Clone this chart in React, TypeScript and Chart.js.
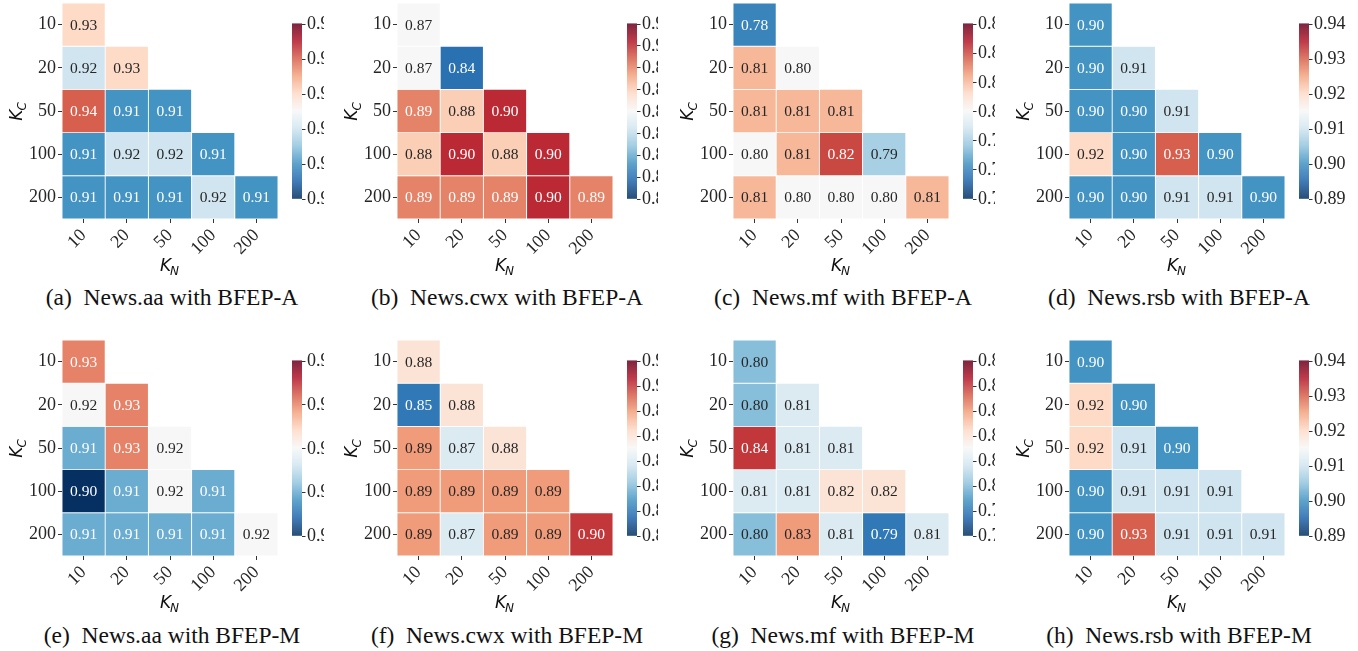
import React, { useEffect, useRef } from "react";
import { Chart, registerables } from "chart.js";
Chart.register(...registerables);

// ---------- data ----------
const KC_LABELS = ["10", "20", "50", "100", "200"]; // rows (K_C)
const KN_LABELS = ["10", "20", "50", "100", "200"]; // columns (K_N)

// lower-triangular matrices, row = K_C, col = K_N
const aaA = [[0.93], [0.92, 0.93], [0.94, 0.91, 0.91], [0.91, 0.92, 0.92, 0.91], [0.91, 0.91, 0.91, 0.92, 0.91]];
const cwxA = [[0.87], [0.87, 0.84], [0.89, 0.88, 0.9], [0.88, 0.9, 0.88, 0.9], [0.89, 0.89, 0.89, 0.9, 0.89]];
const mfA = [[0.78], [0.81, 0.8], [0.81, 0.81, 0.81], [0.8, 0.81, 0.82, 0.79], [0.81, 0.8, 0.8, 0.8, 0.81]];
const rsbA = [[0.9], [0.9, 0.91], [0.9, 0.9, 0.91], [0.92, 0.9, 0.93, 0.9], [0.9, 0.9, 0.91, 0.91, 0.9]];
const aaM = [[0.93], [0.92, 0.93], [0.91, 0.93, 0.92], [0.9, 0.91, 0.92, 0.91], [0.91, 0.91, 0.91, 0.91, 0.92]];
const cwxM = [[0.88], [0.85, 0.88], [0.89, 0.87, 0.88], [0.89, 0.89, 0.89, 0.89], [0.89, 0.87, 0.89, 0.89, 0.9]];
const mfM = [[0.8], [0.8, 0.81], [0.84, 0.81, 0.81], [0.81, 0.81, 0.82, 0.82], [0.8, 0.83, 0.81, 0.79, 0.81]];
const rsbM = [[0.9], [0.92, 0.9], [0.92, 0.91, 0.9], [0.9, 0.91, 0.91, 0.91], [0.9, 0.93, 0.91, 0.91, 0.91]];

// colorbar ranges [min, max]
const rangeAaA = [0.9, 0.95];
const rangeCwxA = [0.83, 0.91];
const rangeMfA = [0.77, 0.83];
const rangeRsbA = [0.89, 0.94];
const rangeAaM = [0.9, 0.94];
const rangeCwxM = [0.84, 0.91];
const rangeMfM = [0.78, 0.85];
const rangeRsbM = [0.89, 0.94];

const CAPTIONS = [
  "(a)\u2002News.aa with BFEP-A",
  "(b)\u2002News.cwx with BFEP-A",
  "(c)\u2002News.mf with BFEP-A",
  "(d)\u2002News.rsb with BFEP-A",
  "(e)\u2002News.aa with BFEP-M",
  "(f)\u2002News.cwx with BFEP-M",
  "(g)\u2002News.mf with BFEP-M",
  "(h)\u2002News.rsb with BFEP-M",
];

const MATRICES = [aaA, cwxA, mfA, rsbA, aaM, cwxM, mfM, rsbM];
const RANGES = [rangeAaA, rangeCwxA, rangeMfA, rangeRsbA, rangeAaM, rangeCwxM, rangeMfM, rangeRsbM];

// ---------- layout ----------
const LAYOUT = [
  { left: 0, top: 0, width: 324 },
  { left: 335, top: 0, width: 323 },
  { left: 671, top: 0, width: 324 },
  { left: 1007, top: 0, width: 351 },
  { left: 0, top: 337, width: 324 },
  { left: 335, top: 337, width: 323 },
  { left: 671, top: 337, width: 324 },
  { left: 1007, top: 337, width: 351 },
];
const CANVAS_H = 282;
const Y_AXIS_W = 62;
const CELL_AREA = 216;
const CAPTION_Y = [297, 297, 297, 297, 635, 635, 635, 635];

const SERIF = '"Liberation Serif", "Times New Roman", serif';
const SANS = '"DejaVu Sans", sans-serif';

// RdBu_r colormap
const RDBU_R = [
  [5, 48, 97], [33, 102, 172], [67, 147, 195], [146, 197, 222], [209, 229, 240],
  [247, 247, 247], [253, 219, 199], [244, 165, 130], [214, 96, 77], [178, 24, 43], [103, 0, 31],
];
function cmapRGB(t: number): number[] {
  const tt = Math.max(0, Math.min(1, t)) * 10;
  const i = Math.min(9, Math.floor(tt));
  const f = tt - i;
  const a = RDBU_R[i], b = RDBU_R[i + 1];
  return [0, 1, 2].map((k) => a[k] + (b[k] - a[k]) * f);
}
function rgbStr(c: number[]) {
  return `rgb(${Math.round(c[0])},${Math.round(c[1])},${Math.round(c[2])})`;
}
function luminance(c: number[]) {
  const lin = c.map((v) => {
    const s = v / 255;
    return s <= 0.03928 ? s / 12.92 : Math.pow((s + 0.055) / 1.055, 2.4);
  });
  return 0.2126 * lin[0] + 0.7152 * lin[1] + 0.0722 * lin[2];
}

function Panel({ idx }: { idx: number }) {
  const ref = useRef<HTMLCanvasElement>(null);
  const lay = LAYOUT[idx];
  useEffect(() => {
    const values = MATRICES[idx];
    const [vmin, vmax] = RANGES[idx];
    const norm = (v: number) => (v - vmin) / (vmax - vmin);

    const cellText = {
      id: "cellText",
      afterDatasetsDraw(chart: any) {
        const ctx = chart.ctx;
        ctx.save();
        ctx.font = `15.5px ${SERIF}`;
        ctx.textAlign = "center";
        ctx.textBaseline = "middle";
        chart.data.datasets.forEach((_: any, r: number) => {
          const meta = chart.getDatasetMeta(r);
          meta.data.forEach((el: any, c: number) => {
            if (c > r) return;
            const v = values[r][c];
            const col = cmapRGB(norm(v));
            const p = el.getProps(["x", "y", "base"], true);
            ctx.fillStyle = luminance(col) > 0.408 ? "#262626" : "#ffffff";
            ctx.fillText(v.toFixed(2), p.x, (p.y + p.base) / 2 + 1);
          });
        });
        ctx.restore();
      },
    };

    const extras = {
      id: "extras",
      afterDraw(chart: any) {
        const ctx = chart.ctx;
        const ca = chart.chartArea;
        ctx.save();
        // colorbar
        const x0 = ca.right + 14;
        const w = 10;
        const y0 = ca.top + 20.5;
        const h = 175;
        for (let i = 0; i < h; i++) {
          ctx.fillStyle = rgbStr(cmapRGB(1 - (i + 0.5) / h));
          ctx.fillRect(x0, y0 + i, w, 1.2);
        }
        const n = Math.round((vmax - vmin) / 0.01);
        ctx.strokeStyle = "#333";
        ctx.lineWidth = 1;
        ctx.fillStyle = "#262626";
        ctx.font = `18px ${SERIF}`;
        ctx.textAlign = "left";
        ctx.textBaseline = "middle";
        for (let k = 0; k <= n; k++) {
          const v = vmin + k * 0.01;
          const y = y0 + h - (k / n) * h;
          ctx.beginPath();
          ctx.moveTo(x0 + w, Math.round(y) + 0.5);
          ctx.lineTo(x0 + w + 3.5, Math.round(y) + 0.5);
          ctx.stroke();
          ctx.fillText(v.toFixed(2), x0 + w + 5, y + 1);
        }
        // axis titles
        ctx.fillStyle = "#111";
        ctx.textBaseline = "alphabetic";
        ctx.textAlign = "left";
        const big = `italic 17px ${SANS}`;
        const small = `italic 12px ${SANS}`;
        ctx.font = big;
        const wK = ctx.measureText("K").width;
        ctx.font = small;
        const wN = ctx.measureText("N").width;
        const wC = ctx.measureText("C").width;
        // K_N
        const cx = (ca.left + ca.right) / 2;
        const by = ca.bottom + 52;
        ctx.font = big;
        ctx.fillText("K", cx - (wK + wN) / 2, by);
        ctx.font = small;
        ctx.fillText("N", cx - (wK + wN) / 2 + wK - 1, by + 4);
        // K_C
        const cy = (ca.top + ca.bottom) / 2;
        ctx.translate(22, cy);
        ctx.rotate(-Math.PI / 2);
        ctx.font = big;
        ctx.fillText("K", -(wK + wC) / 2, 0);
        ctx.font = small;
        ctx.fillText("C", -(wK + wC) / 2 + wK - 1, 4);
        ctx.restore();
      },
    };

    const chart = new Chart(ref.current as HTMLCanvasElement, {
      type: "bar",
      data: {
        labels: KN_LABELS,
        datasets: KC_LABELS.map((_, r) => ({
          data: KN_LABELS.map((_, c) => (c <= r ? [r, r + 1] : null)) as any,
          backgroundColor: KN_LABELS.map((_, c) =>
            c <= r ? rgbStr(cmapRGB(norm(values[r][c]))) : "rgba(0,0,0,0)"
          ),
          borderColor: "#ffffff",
          borderWidth: 0.8,
          borderSkipped: false,
          barPercentage: 1,
          categoryPercentage: 1,
          grouped: false,
        })),
      },
      options: {
        animation: false,
        responsive: false,
        devicePixelRatio: 1,
        layout: { padding: { top: 3, left: 0, bottom: 0, right: lay.width - Y_AXIS_W - CELL_AREA } },
        plugins: { legend: { display: false }, tooltip: { enabled: false } },
        scales: {
          x: {
            type: "category",
            offset: true,
            grid: { display: true, drawOnChartArea: false, drawTicks: true, tickLength: 4, offset: false, color: "#333" },
            border: { display: false },
            ticks: { font: { family: SERIF, size: 18 }, color: "#262626", maxRotation: 45, minRotation: 45, padding: 2, autoSkip: false },
            afterFit: (s: any) => {
              s.height = CANVAS_H - 3 - CELL_AREA;
              s.paddingLeft = 0;
              s.paddingRight = 0;
            },
          },
          y: {
            type: "linear",
            min: 0,
            max: 5,
            reverse: true,
            afterBuildTicks: (s: any) => { s.ticks = KC_LABELS.map((_, i) => ({ value: i + 0.5 })); },
            ticks: {
              font: { family: SERIF, size: 18 },
              color: "#262626",
              padding: 2,
              autoSkip: false,
              callback: (v: any) => KC_LABELS[Math.floor(Number(v))],
            },
            grid: { display: true, drawOnChartArea: false, drawTicks: true, tickLength: 4, color: "#333" },
            border: { display: false },
            afterFit: (s: any) => {
              s.width = Y_AXIS_W;
              s.paddingTop = 0;
              s.paddingBottom = 0;
            },
          },
        },
      } as any,
      plugins: [cellText, extras],
    });
    return () => chart.destroy();
  }, [idx]);
  return (
    <canvas
      ref={ref}
      width={lay.width}
      height={CANVAS_H}
      style={{ position: "absolute", left: lay.left, top: lay.top, width: lay.width, height: CANVAS_H }}
    />
  );
}

export default function App() {
  return (
    <div style={{ position: "absolute", left: 0, top: 0, width: 1358, height: 651, background: "#fff", overflow: "hidden" }}>
      {LAYOUT.map((_, i) => (
        <Panel key={i} idx={i} />
      ))}
      {CAPTIONS.map((c, i) => {
        const cx = LAYOUT[i].left + Y_AXIS_W + CELL_AREA / 2 + 2;
        return (
          <div
            key={"c" + i}
            style={{
              position: "absolute",
              left: cx - 200,
              width: 400,
              top: CAPTION_Y[i] - 14,
              height: 28,
              lineHeight: "28px",
              textAlign: "center",
              fontFamily: SERIF,
              fontSize: 23.5,
              color: "#111",
              whiteSpace: "pre",
            }}
          >
            {c}
          </div>
        );
      })}
    </div>
  );
}
